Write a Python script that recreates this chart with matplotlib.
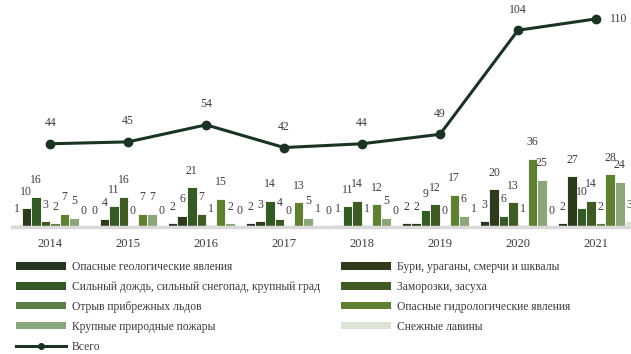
import numpy as np
import matplotlib.pyplot as plt
from matplotlib.patches import Patch
from matplotlib.lines import Line2D

plt.rcParams['font.family'] = ['Liberation Serif', 'DejaVu Serif']

years = ['2014', '2015', '2016', '2017', '2018', '2019', '2020', '2021']

series_names = [
    'Опасные геологические явления',
    'Бури, ураганы, смерчи и шквалы',
    'Сильный дождь, сильный снегопад, крупный град',
    'Заморозки, засуха',
    'Отрыв прибрежных льдов',
    'Опасные гидрологические явления',
    'Крупные природные пожары',
    'Снежные лавины',
]

geol = [1, 0, 2, 2, 0, 2, 3, 2]
storms = [10, 4, 6, 3, 1, 2, 20, 27]
rain = [16, 11, 21, 14, 11, 9, 6, 10]
frost = [3, 16, 7, 4, 14, 12, 13, 14]
ice = [2, 0, 1, 0, 1, 0, 1, 2]
hydro = [7, 7, 15, 13, 12, 17, 36, 28]
fires = [5, 7, 2, 5, 5, 6, 25, 24]
avalanche = [0, 0, 0, 1, 0, 1, 0, 3]
total = [44, 45, 54, 42, 44, 49, 104, 110]

series = [geol, storms, rain, frost, ice, hydro, fires, avalanche]
colors = ['#263620', '#2f3a1c', '#345a25', '#405a24',
          '#5b7f46', '#5f8030', '#8ba678', '#dbe4d4']
line_color = '#1b3323'
text_color = '#3c3c3c'

W, H = 631, 354
fig = plt.figure(figsize=(W / 100, H / 100), dpi=100)
# оси: от 12 px слева до правого края, ноль на высоте 127 px снизу
ax = fig.add_axes([12 / W, 127 / H, 1 - 12 / W, 1 - 127 / H])

x = np.arange(len(years))
bw = 0.1225
for j, (vals, c) in enumerate(zip(series, colors)):
    pos = x + (j - 3.5) * bw
    ax.bar(pos, vals, width=bw, color=c, edgecolor='white', linewidth=0.6, zorder=2)
    for p, v in zip(pos, vals):
        ax.annotate(str(v), (p, v), xytext=(0, 7.5), textcoords='offset points',
                    ha='center', va='bottom', fontsize=8.5, color=text_color)

ax.plot(x, total, color=line_color, lw=2.2, marker='o', ms=6, zorder=3)
for i, v in enumerate(total):
    if i == len(total) - 1:
        ax.annotate(str(v), (x[i], v), xytext=(10, 0), textcoords='offset points',
                    ha='left', va='center', fontsize=8.5, color=text_color)
    else:
        ax.annotate(str(v), (x[i], v), xytext=(0, 10.5), textcoords='offset points',
                    ha='center', va='bottom', fontsize=8.5, color=text_color)

ax.set_xlim(-0.49, 7.45)
ax.set_ylim(0, 120)
ax.set_xticks(x)
ax.set_xticklabels(years, fontsize=9, color=text_color)
ax.tick_params(axis='x', length=0, pad=8)
ax.set_yticks([])
for s in ['top', 'right', 'left']:
    ax.spines[s].set_visible(False)
ax.spines['bottom'].set_color('#d9d9d9')
ax.spines['bottom'].set_linewidth(2.5)
ax.set_facecolor('none')

# легенда в две колонки
handles = [Patch(facecolor=c, edgecolor='none') for c in colors]
total_handle = Line2D([], [], color=line_color, lw=2.2, marker='o', ms=4)
left_h = [handles[0], handles[2], handles[4], handles[6], total_handle]
left_l = [series_names[0], series_names[2], series_names[4], series_names[6], 'Всего']
right_h = [handles[1], handles[3], handles[5], handles[7]]
right_l = [series_names[1], series_names[3], series_names[5], series_names[7]]

common = dict(loc='upper left', frameon=False, fontsize=8.4, handlelength=4.3,
              handleheight=0.6, handletextpad=0.5, labelspacing=0.68,
              borderpad=0, borderaxespad=0, labelcolor=text_color)
leg1 = fig.legend(left_h, left_l, bbox_to_anchor=(16 / W, 1 - 261 / H), **common)
leg2 = fig.legend(right_h, right_l, bbox_to_anchor=(341 / W, 1 - 261 / H), **common)

fig.savefig('out.png', dpi=100)
